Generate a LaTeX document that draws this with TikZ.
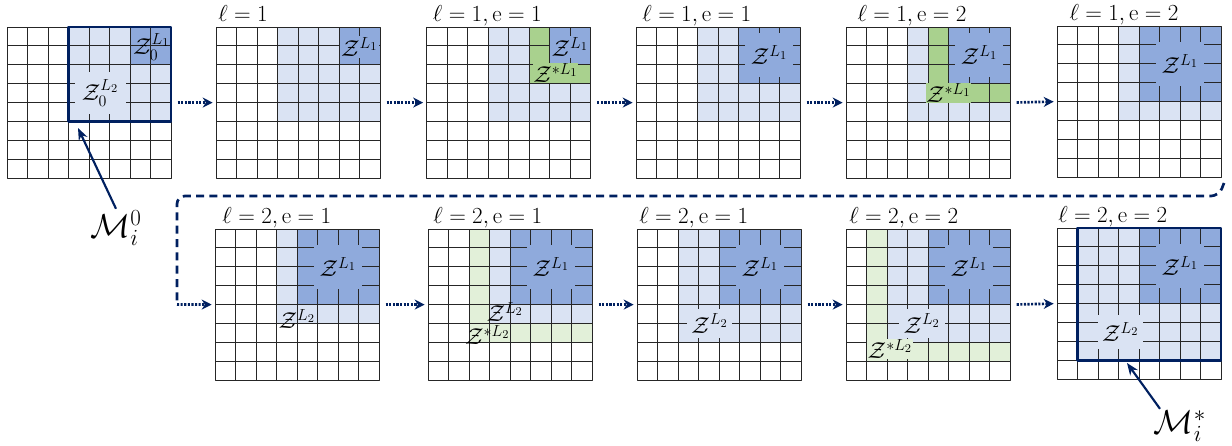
\documentclass[tikz,border=0pt]{standalone}
\usepackage{amsmath,amssymb}
\usetikzlibrary{arrows.meta}
\definecolor{lblue}{HTML}{DAE3F3}
\definecolor{dblue}{HTML}{8FAADC}
\definecolor{dgreen}{HTML}{A9D18E}
\definecolor{lgreen}{HTML}{E2F0D9}
\definecolor{navy}{HTML}{002060}
\tikzset{
  every picture/.style={line join=round, >=Stealth},
  cellline/.style={line width=0.7pt, black!85},
  gridbox/.style={minimum width=123pt, minimum height=113.4pt, inner sep=0pt, outer sep=0pt, anchor=north west},
  steplabel/.style={anchor=base west, inner sep=0pt, font=\fontsize{16.5}{19}\selectfont},
  zlab/.style={inner sep=1.5pt, font=\fontsize{18}{21}\selectfont},
  bigbox/.style={zlab, fill=dblue, minimum width=36pt, minimum height=33pt},
  mlabel/.style={inner sep=1pt, font=\fontsize{25}{30}\selectfont},
  selframe/.style={navy, line width=2.2pt},
  flow/.style={navy, line width=2pt, dash pattern=on 1.6pt off 1.1pt, -{Stealth[length=7.5pt,width=7.5pt]}, shorten <=5pt, shorten >=2.5pt},
  loopline/.style={navy, line width=2pt, dash pattern=on 6pt off 4pt, rounded corners=6pt},
  pointer/.style={navy, line width=1.6pt, -{Stealth[length=9pt,width=7pt]}},
}
% 8x8 cells, drawn in cell units inside a scope
\newcommand{\cellgrid}{\foreach \k in {1,...,7} {\draw[cellline] (\k,0) -- (\k,8) (0,\k) -- (8,\k);}}
\newcommand{\cellframe}{\draw[cellline] (0,0) rectangle (8,8);}
\newcommand{\area}[3]{\fill[#1] (#2) rectangle (#3);}
\begin{document}
\begin{tikzpicture}[x=0.75pt,y=-0.75pt]
\useasboundingbox (0,0) rectangle (1232,446);
% top row
\begin{scope}[shift={(7,27)},x=15.375pt,y=-14.175pt]
\node[gridbox] (g0) at (0,0) {};
\area{lblue}{3,0}{8,5} \area{dblue}{6,0}{8,2}
\cellgrid
\node[zlab,fill=lblue,minimum width=38pt,minimum height=32pt] (z0b) at (4.55,3.5) {$\mathcal{Z}_0^{L_2}$};
\node[zlab,inner sep=0.5pt] (z0a) at (7.05,1.05) {$\mathcal{Z}_0^{L_1}$};
\cellframe
\draw[selframe] (3,0) rectangle (8,5);
\end{scope}
\begin{scope}[shift={(216,27)},x=15.375pt,y=-14.175pt]
\node[gridbox] (g1) at (0,0) {};
\area{lblue}{3,0}{8,5} \area{dblue}{6,0}{8,2}
\cellgrid
\node[zlab,fill=dblue,inner sep=1pt] (z1a) at (7,1.05) {$\mathcal{Z}^{L_1}$};
\cellframe
\node[steplabel] (t1) at (0.1,-0.3) {$\ell = 1$};
\end{scope}
\begin{scope}[shift={(426.5,27)},x=15.375pt,y=-14.175pt]
\node[gridbox] (g2) at (0,0) {};
\area{lblue}{3,0}{8,5} \area{dgreen}{5,0}{8,3} \area{dblue}{6,0}{8,2}
\cellgrid
\node[zlab,fill=dblue,inner sep=1pt] (z2a) at (7,1.05) {$\mathcal{Z}^{L_1}$};
\node[zlab,fill=dgreen,inner sep=0.3pt] (z2b) at (6.3,2.45) {$\mathcal{Z}^{*L_1}$};
\cellframe
\node[steplabel] (t2) at (0.3,-0.3) {$\ell = 1, \mathrm{e} = 1$};
\end{scope}
\begin{scope}[shift={(636,27)},x=15.375pt,y=-14.175pt]
\node[gridbox] (g3) at (0,0) {};
\area{lblue}{3,0}{8,5} \area{dblue}{5,0}{8,3}
\cellgrid
\node[bigbox] (z3a) at (6.5,1.5) {$\mathcal{Z}^{L_1}$};
\cellframe
\node[steplabel] (t3) at (0.3,-0.3) {$\ell = 1, \mathrm{e} = 1$};
\end{scope}
\begin{scope}[shift={(846,27)},x=15.375pt,y=-14.175pt]
\node[gridbox] (g4) at (0,0) {};
\area{lblue}{3,0}{8,5} \area{dgreen}{4,0}{8,4} \area{dblue}{5,0}{8,3}
\cellgrid
\node[bigbox] (z4a) at (6.5,1.5) {$\mathcal{Z}^{L_1}$};
\node[zlab,fill=dgreen,inner sep=0.3pt] (z4b) at (5,3.5) {$\mathcal{Z}^{*L_1}$};
\cellframe
\node[steplabel] (t4) at (0.55,-0.3) {$\ell = 1, \mathrm{e} = 2$};
\end{scope}
\begin{scope}[shift={(1057,26)},x=15.375pt,y=-14.175pt]
\node[gridbox] (g5) at (0,0) {};
\area{lblue}{3,0}{8,5} \area{dblue}{4,0}{8,4}
\cellgrid
\node[bigbox] (z5a) at (6,2) {$\mathcal{Z}^{L_1}$};
\cellframe
\node[steplabel] (t5) at (0.6,-0.3) {$\ell = 1, \mathrm{e} = 2$};
\end{scope}
% bottom row
\begin{scope}[shift={(215,229)},x=15.375pt,y=-14.175pt]
\node[gridbox] (g6) at (0,0) {};
\area{lblue}{3,0}{8,5} \area{dblue}{4,0}{8,4}
\cellgrid
\node[bigbox] (z6a) at (6,2) {$\mathcal{Z}^{L_1}$};
\node[zlab,inner sep=0pt] (z6b) at (4,4.75) {$\mathcal{Z}^{L_2}$};
\cellframe
\node[steplabel] (t6) at (0.35,-0.3) {$\ell = 2, \mathrm{e} = 1$};
\end{scope}
\begin{scope}[shift={(428,229)},x=15.375pt,y=-14.175pt]
\node[gridbox] (g7) at (0,0) {};
\area{lgreen}{2,0}{8,6} \area{lblue}{3,0}{8,5} \area{dblue}{4,0}{8,4}
\cellgrid
\node[bigbox] (z7a) at (6,2) {$\mathcal{Z}^{L_1}$};
\node[zlab,inner sep=0pt] (z7b) at (3.75,4.4) {$\mathcal{Z}^{L_2}$};
\node[zlab,inner sep=0pt] (z7c) at (2.9,5.6) {$\mathcal{Z}^{*L_2}$};
\cellframe
\node[steplabel] (t7) at (0.25,-0.3) {$\ell = 2, \mathrm{e} = 1$};
\end{scope}
\begin{scope}[shift={(637,229)},x=15.375pt,y=-14.175pt]
\node[gridbox] (g8) at (0,0) {};
\area{lblue}{2,0}{8,6} \area{dblue}{4,0}{8,4}
\cellgrid
\node[bigbox] (z8a) at (6,2) {$\mathcal{Z}^{L_1}$};
\node[zlab,fill=lblue,minimum width=34pt,minimum height=22pt] (z8b) at (3.55,5) {$\mathcal{Z}^{L_2}$};
\cellframe
\node[steplabel] (t8) at (0.1,-0.3) {$\ell = 2, \mathrm{e} = 1$};
\end{scope}
\begin{scope}[shift={(846,229)},x=15.375pt,y=-14.175pt]
\node[gridbox] (g9) at (0,0) {};
\area{lgreen}{1,0}{8,7} \area{lblue}{2,0}{8,6} \area{dblue}{4,0}{8,4}
\cellgrid
\node[bigbox] (z9a) at (6,2) {$\mathcal{Z}^{L_1}$};
\node[zlab,fill=lblue,minimum width=34pt,minimum height=22pt] (z9b) at (3.7,5) {$\mathcal{Z}^{L_2}$};
\node[zlab,fill=lgreen,inner sep=0.3pt] (z9c) at (2.15,6.35) {$\mathcal{Z}^{*L_2}$};
\cellframe
\node[steplabel] (t9) at (0.15,-0.3) {$\ell = 2, \mathrm{e} = 2$};
\end{scope}
\begin{scope}[shift={(1057,228)},x=15.375pt,y=-14.175pt]
\node[gridbox] (g10) at (0,0) {};
\area{lblue}{1,0}{8,7} \area{dblue}{4,0}{8,4}
\cellgrid
\node[bigbox] (z10a) at (6,2) {$\mathcal{Z}^{L_1}$};
\node[zlab,fill=lblue,minimum width=34pt,minimum height=26pt] (z10b) at (3.1,5.5) {$\mathcal{Z}^{L_2}$};
\cellframe
\draw[selframe] (1,0) rectangle (8,7);
\node[steplabel] (t10) at (0.05,-0.3) {$\ell = 2, \mathrm{e} = 2$};
\end{scope}
% steps
\foreach \a/\b in {g0/g1,g1/g2,g2/g3,g3/g4,g4/g5,g6/g7,g7/g8,g8/g9,g9/g10}
  \draw[flow] (\a.east) -- (\b.west);
\coordinate (loopend) at (177,304.5);
\draw[loopline] (1224,183) -- (1219,196) -- (177,196) -- (loopend);
\draw[flow,shorten <=0pt] (loopend) -- (g6.west);
% start and final masks
\node[mlabel] (m0) at (116,228) {$\mathcal{M}_i^0$};
\coordinate (tip0) at (78,128);
\draw[pointer] (m0.north) -- (tip0);
\node[mlabel] (mstar) at (1180,426) {$\mathcal{M}_i^*$};
\coordinate (tip10) at (1127,363);
\draw[pointer] ([xshift=-15pt]mstar.north) -- (tip10);
\end{tikzpicture}
\end{document}
